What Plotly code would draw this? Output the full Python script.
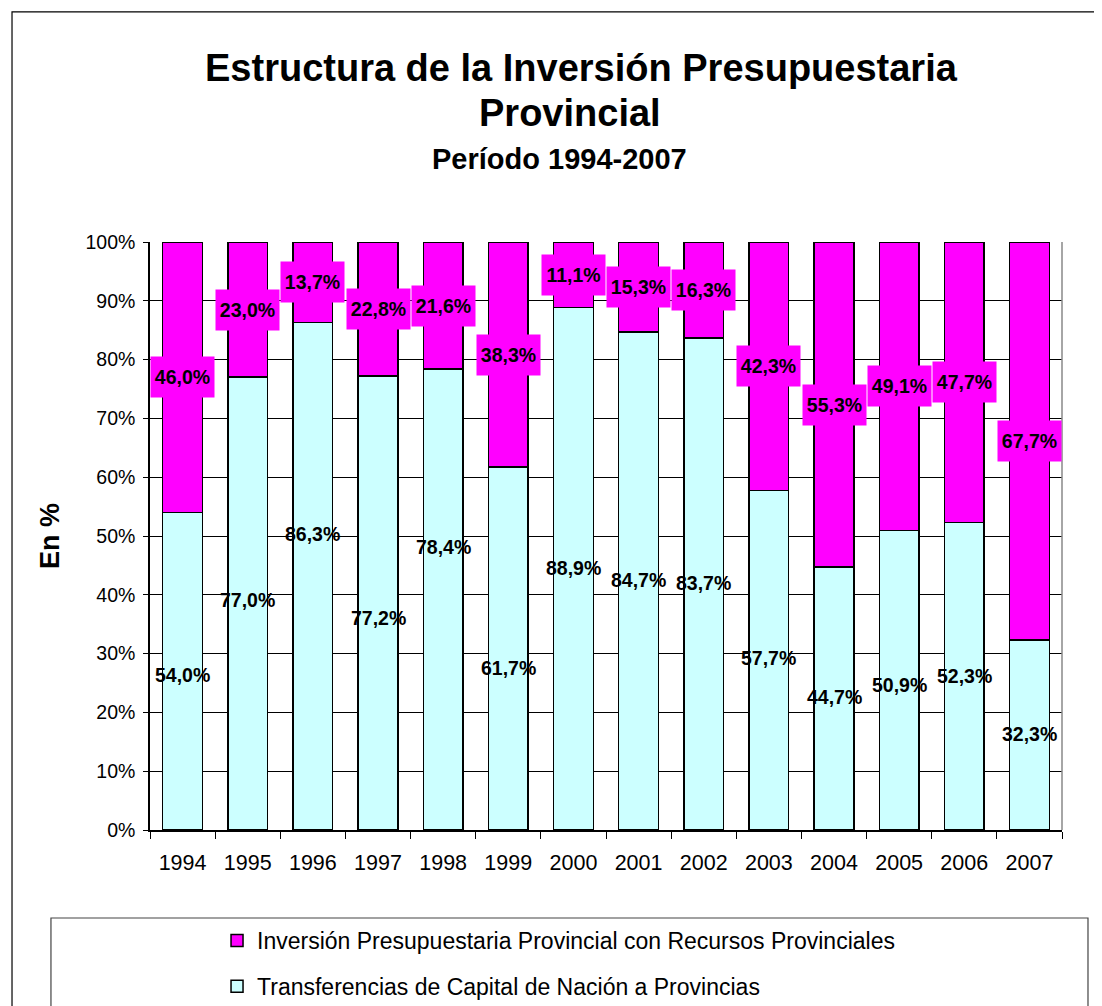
import plotly.graph_objects as go

years = ["1994", "1995", "1996", "1997", "1998", "1999", "2000",
         "2001", "2002", "2003", "2004", "2005", "2006", "2007"]
transferencias = [54.0, 77.0, 86.3, 77.2, 78.4, 61.7, 88.9,
                  84.7, 83.7, 57.7, 44.7, 50.9, 52.3, 32.3]
inversion_propia = [46.0, 23.0, 13.7, 22.8, 21.6, 38.3, 11.1,
                    15.3, 16.3, 42.3, 55.3, 49.1, 47.7, 67.7]
# heights (in %) where the cyan labels sit in the original chart (some were moved by hand)
transf_label_at = [26.4, 39.1, 50.3, 36.1, 48.1, 27.6, 44.6,
                   42.5, 42.0, 29.3, 22.6, 24.7, 26.2, 16.3]

FONT = "Arial, Liberation Sans, sans-serif"
CYAN = "#CCFFFF"
MAGENTA = "#FF00FF"

fig = go.Figure()
fig.add_trace(go.Bar(
    x=years, y=transferencias, name="Transferencias de Capital de Nación a Provincias",
    marker=dict(color=CYAN, line=dict(color="black", width=1.5)),
    width=0.61, legendgroup="a", legendrank=2, hoverinfo="skip"))
fig.add_trace(go.Bar(
    x=years, y=inversion_propia, name="Inversión Presupuestaria Provincial con Recursos Provinciales",
    marker=dict(color=MAGENTA, line=dict(color="black", width=1.5)),
    width=0.61, legendgroup="b", legendrank=1, hoverinfo="skip"))

def fmt(v):
    return f"{v:.1f}%".replace(".", ",")

ann = []
for i, (t, p, la) in enumerate(zip(transferencias, inversion_propia, transf_label_at)):
    ann.append(dict(x=i, y=la, xref="x", yref="y", text=f"<b>{fmt(t)}</b>",
                    showarrow=False, xanchor="center", yanchor="middle",
                    font=dict(family=FONT, size=19.5, color="black")))
    ann.append(dict(x=i, y=t + p / 2, xref="x", yref="y", text=f"<b>{fmt(p)}</b>",
                    showarrow=False, xanchor="center", yanchor="middle",
                    bgcolor=MAGENTA, width=59, height=36, borderpad=2,
                    font=dict(family=FONT, size=19.5, color="black")))

# titles
ann.append(dict(x=0.4726, y=1.2959, xref="paper", yref="paper", showarrow=False,
                xanchor="center", yanchor="middle",
                text="<b>Estructura de la Inversión Presupuestaria</b>",
                font=dict(family=FONT, size=38, color="black")))
ann.append(dict(x=0.4605, y=1.2194, xref="paper", yref="paper", showarrow=False,
                xanchor="center", yanchor="middle",
                text="<b>Provincial</b>", font=dict(family=FONT, size=38, color="black")))
ann.append(dict(x=0.4485, y=1.1412, xref="paper", yref="paper", showarrow=False,
                xanchor="center", yanchor="middle",
                text="<b>Período 1994-2007</b>", font=dict(family=FONT, size=29, color="black")))

shapes = [
    # outer chart border
    dict(type="rect", xref="paper", yref="paper", x0=-0.1513, x1=1.2, y0=-0.5, y1=1.3912,
         line=dict(color="black", width=1.2), layer="below"),
    # legend box
    dict(type="rect", xref="paper", yref="paper", x0=-0.1086, x1=1.0285, y0=-0.45, y1=-0.1497,
         line=dict(color="#444444", width=1.2), layer="below"),
    # right border of plot area
    dict(type="line", xref="paper", yref="paper", x0=1, x1=1, y0=0, y1=1,
         line=dict(color="#888888", width=1.5)),
]

fig.update_layout(
    width=1102, height=1040,
    margin=dict(l=142, r=48, t=234, b=218),
    paper_bgcolor="white", plot_bgcolor="white",
    barmode="stack", bargap=0.39,
    font=dict(family=FONT, color="black"),
    annotations=ann, shapes=shapes,
    showlegend=True,
    legend=dict(x=0.0735, y=-0.1514, xanchor="left", yanchor="top",
                traceorder="grouped", tracegroupgap=13,
                font=dict(family=FONT, size=23, color="black"),
                bgcolor="rgba(0,0,0,0)", itemwidth=30),
)
fig.update_yaxes(range=[0, 100], dtick=10, ticksuffix="%",
                 showgrid=True, gridcolor="black", gridwidth=1,
                 showline=True, linecolor="black", linewidth=1.5,
                 ticks="outside", ticklen=5, tickcolor="black", ticklabelstandoff=4,
                 tickfont=dict(family=FONT, size=19.5, color="black"),
                 title=dict(text="<b>En %</b>", font=dict(family=FONT, size=27, color="black"),
                            standoff=18),
                 zeroline=False)
fig.update_xaxes(type="category", range=[-0.5, len(years) - 0.5],
                 showline=True, linecolor="black", linewidth=1.5,
                 ticks="outside", ticklen=7, tickcolor="black", tickson="boundaries",
                 ticklabelstandoff=12,
                 tickfont=dict(family=FONT, size=21.5, color="black"))

fig.write_html("out.html")
